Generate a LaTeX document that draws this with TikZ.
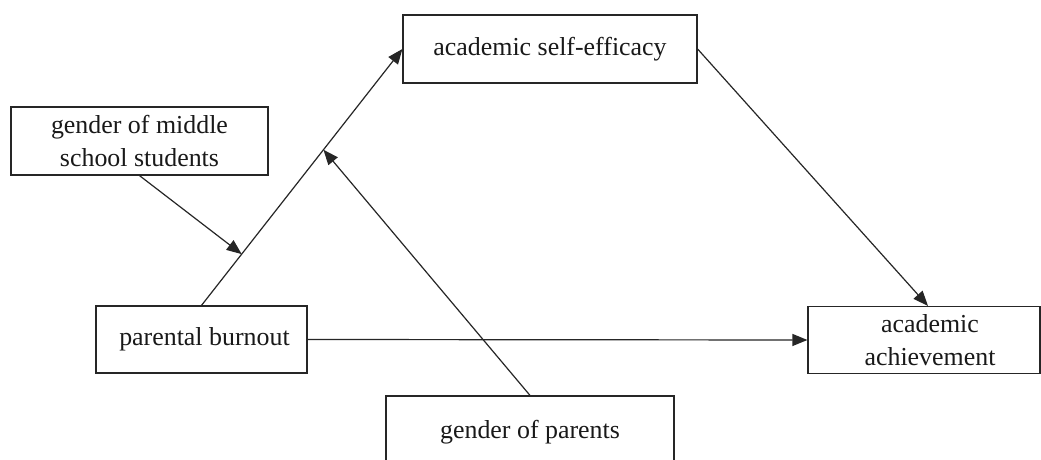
\documentclass[tikz,border=0pt]{standalone}
\usepackage{fontspec}
\setmainfont{Liberation Serif}
\usetikzlibrary{arrows.meta}
\begin{document}
\begin{tikzpicture}[x=1bp,y=-1bp,
  box/.style={draw=black!85, line width=1.2bp, inner sep=0pt, align=center,
    font=\fontsize{26}{33}\selectfont, text=black!90},
  conn/.style={draw=black!85, line width=1.2bp, -{Triangle[length=15bp,width=12bp]}}]
\clip (0,0) rectangle (1041,460);
\fill[white] (0,0) rectangle (1041,460);
\node[box, minimum width=294bp, minimum height=68bp] (ase) at (550,49) {academic self-efficacy};
\node[box, minimum width=257bp, minimum height=68bp] (gms) at (139.5,141) {gender of middle\\school students};
\node[box, minimum width=211bp, minimum height=67bp] (pb) at (201.5,339.5) {\hspace*{6bp}parental burnout};
\node[box, minimum width=232bp, minimum height=67bp] (aa) at (924,340) {\hspace*{12bp}academic\\\hspace*{12bp}achievement};
\node[box, minimum width=288bp, minimum height=72bp] (gop) at (530,432) {gender of parents};
\draw[conn] (pb.north) -- (ase.west)
  coordinate[pos=0.2] (m1) coordinate[pos=0.607] (m2);
\draw[conn] (gms.south) -- (m1);
\draw[conn] (gop.north) -- (m2);
\draw[conn] (ase.east) -- ([xshift=4bp]aa.north);
\draw[conn] (pb.east) -- (aa.west);
\end{tikzpicture}
\end{document}
